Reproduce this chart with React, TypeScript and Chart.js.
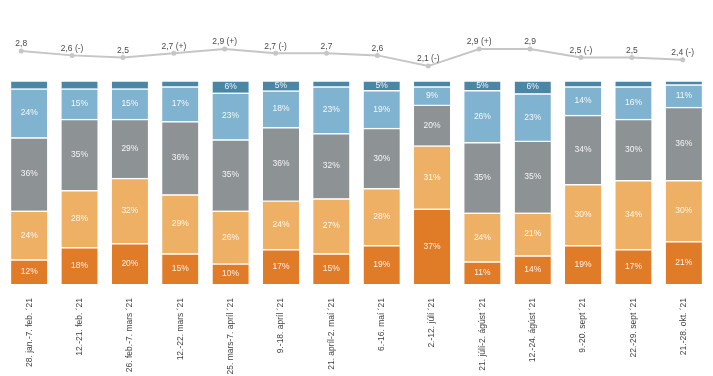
import React, { useEffect, useRef } from "react";
import { Chart, registerables } from "chart.js";

Chart.register(...registerables);

const categories = [
  "28. jan.-7. feb. ´21",
  "12.-21. feb. ´21",
  "26. feb.-7. mars ´21",
  "12.-22. mars ´21",
  "25. mars-7. apríl ´21",
  "9.-18. apríl ´21",
  "21. apríl-2. maí ´21",
  "6.-16. maí ´21",
  "2.-12. júlí ´21",
  "21. júlí-2. ágúst ´21",
  "12.-24. ágúst ´21",
  "9.-20. sept ´21",
  "22.-29. sept ´21",
  "21.-28. okt. ´21",
];

const seriesDarkOrange = [12, 18, 20, 15, 10, 17, 15, 19, 37, 11, 14, 19, 17, 21];
const seriesLightOrange = [24, 28, 32, 29, 26, 24, 27, 28, 31, 24, 21, 30, 34, 30];
const seriesGray = [36, 35, 29, 36, 35, 36, 32, 29.6, 20, 34.6, 35.3, 34, 30, 36];
const seriesLightBlue = [24, 15, 15, 17, 23, 18, 23, 18.6, 9, 25.6, 23.3, 14, 16, 11];
const seriesDarkBlue = [4, 4, 4, 3, 6, 5, 3, 4.8, 3, 4.8, 6.4, 3, 3, 2];

const lineValues = [2.8, 2.6, 2.5, 2.7, 2.9, 2.7, 2.7, 2.6, 2.1, 2.9, 2.9, 2.5, 2.5, 2.4];
const lineLabels = [
  "2,8", "2,6 (-)", "2,5", "2,7 (+)", "2,9 (+)", "2,7 (-)", "2,7",
  "2,6", "2,1 (-)", "2,9 (+)", "2,9", "2,5 (-)", "2,5", "2,4 (-)",
];

const FONT = "'Liberation Sans', Arial, sans-serif";

const labelPlugin = {
  id: "segLabels",
  afterDatasetsDraw(chart: any) {
    const ctx = chart.ctx;
    ctx.save();
    ctx.textAlign = "center";
    ctx.textBaseline = "middle";
    chart.data.datasets.forEach((ds: any, di: number) => {
      const meta = chart.getDatasetMeta(di);
      if (ds.type === "line") {
        ctx.font = `8.5px ${FONT}`;
        ctx.fillStyle = "#4a4a4a";
        meta.data.forEach((pt: any, i: number) => {
          ctx.fillText(lineLabels[i], pt.x, pt.y - 7);
        });
        return;
      }
      ctx.font = `8.5px ${FONT}`;
      ctx.fillStyle = "rgba(255,255,255,0.9)";
      meta.data.forEach((bar: any, i: number) => {
        const v = Math.round(ds.data[i]);
        if (v < 5) return;
        const cy = (bar.y + bar.base) / 2;
        ctx.fillText(v + "%", bar.x, cy);
      });
    });
    ctx.restore();
  },
};

export default function App() {
  const ref = useRef<HTMLCanvasElement>(null);
  useEffect(() => {
    if (!ref.current) return;
    const barDs = (label: string, data: number[], color: string) => ({
      type: "bar" as const,
      label,
      data,
      backgroundColor: color,
      borderColor: "rgba(255,255,255,0.85)",
      borderWidth: { top: 1.5, bottom: 0, left: 0, right: 0 },
      borderSkipped: "start",
      xAxisID: "x",
      yAxisID: "y",
      stack: "s",
      grouped: false,
      barThickness: 36,
      order: 2,
    });
    const chart = new Chart(ref.current, {
      data: {
        labels: categories,
        datasets: [
          {
            type: "line",
            label: "line",
            data: lineValues.map((v, i) => ({ x: i, y: v })),
            borderColor: "#c6c6c6",
            backgroundColor: "#c6c6c6",
            borderWidth: 2,
            pointRadius: 2.5,
            pointBorderWidth: 0,
            xAxisID: "x2",
            yAxisID: "y2",
            order: 1,
          } as any,
          barDs("a", seriesDarkOrange, "#e07b28"),
          barDs("b", seriesLightOrange, "#edb064"),
          barDs("c", seriesGray, "#8d9295"),
          barDs("d", seriesLightBlue, "#80b3cf"),
          barDs("e", seriesDarkBlue, "#4a86a6"),
        ],
      },
      options: {
        animation: false,
        responsive: false,
        maintainAspectRatio: false,
        layout: { padding: { left: 0, right: 2, top: 0, bottom: 0 } },
        plugins: { legend: { display: false }, tooltip: { enabled: false } },
        scales: {
          x: {
            stacked: true,
            offset: true,
            grid: { display: false, drawTicks: true, tickLength: 8 },
            border: { display: false },
            ticks: {
              autoSkip: false,
              maxRotation: 90,
              minRotation: 90,
              padding: 6,
              color: "#444",
              font: { size: 8.5, family: FONT },
            },
            afterFit: (scale: any) => {
              scale.height = 92;
            },
          },
          x2: {
            type: "linear",
            display: false,
            min: -0.338,
            max: 13.517,
          },
          y: {
            stacked: true,
            display: false,
            min: 0,
            max: 137.6,
          },
          y2: {
            display: false,
            min: -8.08,
            max: 5.0,
          },
        },
      },
      plugins: [labelPlugin],
    });
    return () => chart.destroy();
  }, []);
  return (
    <div style={{ position: "absolute", left: 0, top: 0, width: 713, height: 376, background: "#fff" }}>
      <canvas ref={ref} width={713} height={376} style={{ display: "block", width: 713, height: 376 }} />
    </div>
  );
}
